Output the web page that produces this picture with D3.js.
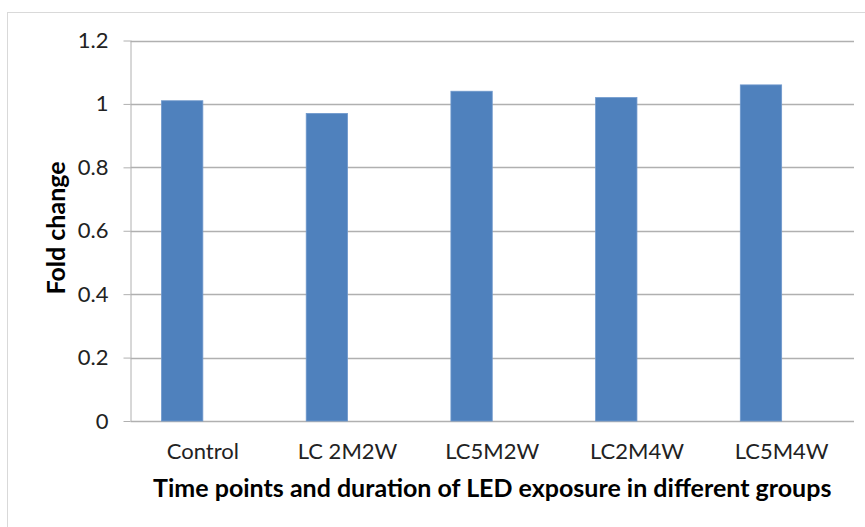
<!DOCTYPE html>
<html>
<head>
<meta charset="utf-8">
<script src="https://cdn.jsdelivr.net/npm/d3@7"></script>
<style>
  body { margin: 0; background: #fff; }
  svg { display: block; }
</style>
</head>
<body>
<div id="chart"></div>
<script>
const groups = ["Control", "LC 2M2W", "LC5M2W", "LC2M4W", "LC5M4W"];
const foldChange = [1.01, 0.97, 1.04, 1.02, 1.06];
const yTicks = [0, 0.2, 0.4, 0.6, 0.8, 1, 1.2];

const W = 865, H = 527;
const margin = { top: 40.5, right: 11, bottom: 106, left: 130.5 };
const font = "Lato, 'Open Sans', sans-serif";

const svg = d3.select("#chart")
    .append("svg")
    .attr("width", W)
    .attr("height", H);

// outer frame (runs off the right/bottom edge like the source)
svg.append("rect")
    .attr("x", 7.5).attr("y", 12.5)
    .attr("width", 900).attr("height", 600)
    .attr("fill", "none")
    .attr("stroke", "#d9d9d9");

const x = d3.scaleBand()
    .domain(groups)
    .range([margin.left, W - margin.right])
    .padding(0);

// excel-style cluster: the value bar plus an empty second slot
const xSub = d3.scaleBand()
    .domain(["fold", "empty"])
    .range([0, x.bandwidth()])
    .paddingInner(0)
    .paddingOuter(0.75);

const y = d3.scaleLinear()
    .domain([0, 1.2])
    .range([H - margin.bottom, margin.top]);

// gridlines + left axis
const yAxis = svg.append("g")
    .attr("transform", `translate(${margin.left},0)`)
    .call(d3.axisLeft(y)
        .tickValues(yTicks)
        .tickFormat(d3.format("~g"))
        .tickSize(7)
        .tickPadding(15));
yAxis.select(".domain").attr("stroke", "#b0b0b0").attr("d", `M0.5,${margin.top}V${H - margin.bottom}`);
yAxis.selectAll(".tick line").attr("stroke", "#b0b0b0");
yAxis.selectAll(".tick text")
    .attr("font-family", font)
    .attr("font-size", 22)
    .attr("fill", "#222");

svg.append("g")
    .selectAll("line")
    .data(yTicks)
    .join("line")
    .attr("x1", margin.left)
    .attr("x2", W - margin.right)
    .attr("y1", d => Math.round(y(d)) + 0.5)
    .attr("y2", d => Math.round(y(d)) + 0.5)
    .attr("stroke", "#b0b0b0")
    .attr("stroke-width", 1.3);

// bars
svg.append("g")
    .selectAll("rect")
    .data(groups)
    .join("rect")
    .attr("x", (d) => x(d) + xSub("fold"))
    .attr("y", (d, i) => y(foldChange[i]))
    .attr("width", xSub.bandwidth())
    .attr("height", (d, i) => y(0) - y(foldChange[i]))
    .attr("fill", "#4f81bd")
    .attr("stroke", "#6f98cc")
    .attr("stroke-width", 0.8);

// category labels
svg.append("g")
    .selectAll("text")
    .data(groups)
    .join("text")
    .attr("x", d => x(d) + x.bandwidth() / 2)
    .attr("y", 459)
    .attr("text-anchor", "middle")
    .attr("font-family", font)
    .attr("font-size", 22)
    .attr("fill", "#222")
    .text(d => d);

svg.append("text")
    .attr("x", (margin.left + W - margin.right) / 2)
    .attr("y", 497)
    .attr("text-anchor", "middle")
    .attr("font-family", font)
    .attr("font-size", 25)
    .attr("font-weight", "bold")
    .attr("fill", "#000")
    .text("Time points and duration of LED exposure in different groups");

svg.append("text")
    .attr("transform", "translate(65,228) rotate(-90)")
    .attr("text-anchor", "middle")
    .attr("font-family", font)
    .attr("font-size", 25)
    .attr("font-weight", "bold")
    .attr("fill", "#000")
    .text("Fold change");
</script>
</body>
</html>
